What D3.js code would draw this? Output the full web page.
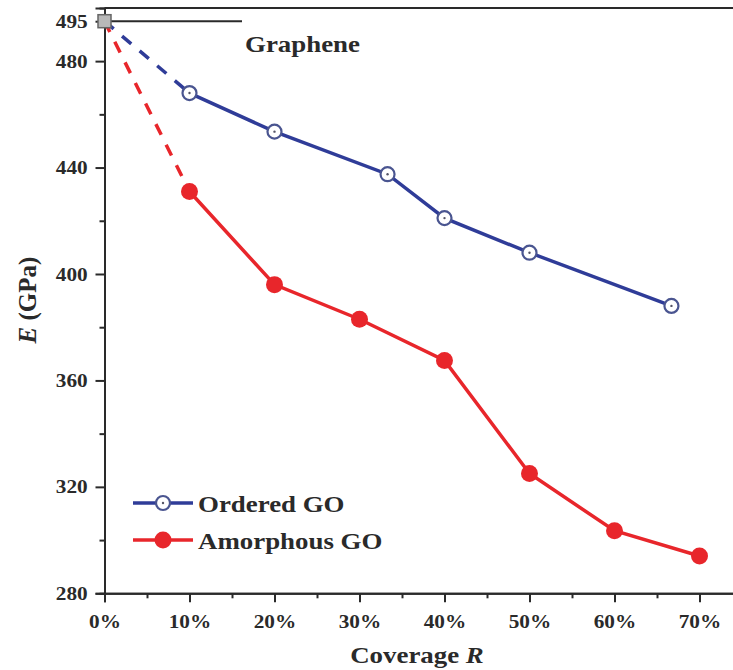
<!DOCTYPE html>
<html>
<head>
<meta charset="utf-8">
<script src="https://cdn.jsdelivr.net/npm/d3@7"></script>
<style>
  html, body { margin: 0; padding: 0; background: #fff; }
  svg { display: block; }
</style>
</head>
<body>
<svg id="chart" width="733" height="670"></svg>
<script>
// data
const grapheneR = [0];
const grapheneE = [495];
const orderedR = [0.10, 0.20, 0.333, 0.40, 0.50, 0.667];
const orderedE = [468, 453.5, 437.5, 421, 408, 388];
const amorphR  = [0.10, 0.20, 0.30, 0.40, 0.50, 0.60, 0.70];
const amorphE  = [431, 396, 383, 367.5, 325, 303.5, 294];

const yMajor = [280, 320, 360, 400, 440, 480, 495];
const yMinor = [300, 340, 380, 420, 460];
const xMajor = [0, 0.1, 0.2, 0.3, 0.4, 0.5, 0.6, 0.7];
const xMinor = [0.05, 0.15, 0.25, 0.35, 0.45, 0.55, 0.65];

const legendItems = ['Ordered GO', 'Amorphous GO'];

const FONT = '"Liberation Serif"';
const BLUE = '#2f3c98', RED = '#e8262b', AXIS = '#2a2a2a', INK = '#2a2a2a';
const SX = 1.12;   // the original is a bit wider than tall

const svg = d3.select('#chart');
const x = d3.scaleLinear().domain([0, 0.74]).range([104.5, 733.5]);
const y = d3.scaleLinear().domain([280, 500]).range([593.3, 7.9]);

// frame top line
svg.append('line')
  .attr('x1', x(0)).attr('x2', 733).attr('y1', y(500)).attr('y2', y(500))
  .attr('stroke', AXIS).attr('stroke-width', 2);

// axes
svg.append('g').attr('transform', `translate(${x(0)},0)`)
  .call(d3.axisLeft(y).tickValues(yMajor).tickSize(9).tickPadding(6).tickFormat(d3.format('d')));
svg.append('g').attr('transform', `translate(${x(0)},0)`)
  .call(d3.axisLeft(y).tickValues(yMinor).tickSize(5).tickFormat(''));
svg.append('g').attr('transform', `translate(0,${y(280)})`)
  .call(d3.axisBottom(x).tickValues(xMajor).tickSize(9).tickPadding(12).tickFormat(d3.format('.0%')));
svg.append('g').attr('transform', `translate(0,${y(280)})`)
  .call(d3.axisBottom(x).tickValues(xMinor).tickSize(5).tickFormat(''));

svg.selectAll('.domain').attr('stroke', AXIS).attr('stroke-width', 2);
svg.selectAll('.tick line').attr('stroke', AXIS).attr('stroke-width', 2);
svg.selectAll('.tick text')
  .attr('font-family', FONT).attr('font-weight', 'bold')
  .attr('font-size', 19).attr('fill', INK)
  .attr('transform', `scale(${SX},1)`);

// graphene reference line
svg.append('line')
  .attr('x1', x(0)).attr('x2', 242).attr('y1', y(grapheneE[0])).attr('y2', y(grapheneE[0]))
  .attr('stroke', AXIS).attr('stroke-width', 2);

// dashed links from graphene to first point
const dashes = [[orderedR, orderedE, BLUE], [amorphR, amorphE, RED]];
dashes.forEach(([r, e, c]) => {
  svg.append('line')
    .attr('x1', x(grapheneR[0])).attr('y1', y(grapheneE[0]))
    .attr('x2', x(r[0])).attr('y2', y(e[0]))
    .attr('stroke', c).attr('stroke-width', 3.5).attr('stroke-dasharray', '12,11');
});

const line = d3.line().x(d => x(d[0])).y(d => y(d[1]));
const ordered = orderedR.map((r, i) => [r, orderedE[i]]);
const amorph = amorphR.map((r, i) => [r, amorphE[i]]);

svg.append('path').datum(ordered).attr('d', line)
  .attr('fill', 'none').attr('stroke', BLUE).attr('stroke-width', 3.5);
svg.append('path').datum(amorph).attr('d', line)
  .attr('fill', 'none').attr('stroke', RED).attr('stroke-width', 3.5);

function openMarker(g, cx, cy) {
  g.append('circle').attr('cx', cx).attr('cy', cy).attr('r', 7)
    .attr('fill', '#fff').attr('stroke', '#4a5590').attr('stroke-width', 2.2);
  g.append('circle').attr('cx', cx).attr('cy', cy).attr('r', 1.2).attr('fill', '#556');
}
function fillMarker(g, cx, cy) {
  g.append('circle').attr('cx', cx).attr('cy', cy).attr('r', 8.5).attr('fill', RED);
}

const mk = svg.append('g');
ordered.forEach(d => openMarker(mk, x(d[0]), y(d[1])));
amorph.forEach(d => fillMarker(mk, x(d[0]), y(d[1])));

// graphene square
svg.append('rect')
  .attr('x', x(grapheneR[0]) - 6.5).attr('y', y(grapheneE[0]) - 6.5)
  .attr('width', 13).attr('height', 13)
  .attr('fill', '#b8b8b8').attr('stroke', '#666').attr('stroke-width', 1.5);

function label(str, tx, ty, size, anchor) {
  return svg.append('text')
    .attr('transform', `translate(${tx},${ty}) scale(${SX},1)`)
    .attr('font-family', FONT).attr('font-weight', 'bold').attr('fill', INK)
    .attr('font-size', size).attr('text-anchor', anchor || 'start')
    .text(str);
}

label('Graphene', 245, 52, 24);

// legend
const legY = [503, 540];
legendItems.forEach((name, i) => {
  const c = i === 0 ? BLUE : RED;
  svg.append('line').attr('x1', 133).attr('x2', 193).attr('y1', legY[i]).attr('y2', legY[i])
    .attr('stroke', c).attr('stroke-width', 3.5);
  if (i === 0) openMarker(svg, 163, legY[i]); else fillMarker(svg, 163, legY[i]);
  label(name, 198, legY[i] + 8.5, 24);
});

// axis titles
const xt = label('', 417, 663, 24, 'middle');
xt.append('tspan').text('Coverage ');
xt.append('tspan').attr('font-style', 'italic').text('R');

const yt = svg.append('text')
  .attr('transform', 'translate(36,300) rotate(-90)')
  .attr('font-family', FONT).attr('font-weight', 'bold').attr('fill', INK)
  .attr('font-size', 25).attr('text-anchor', 'middle');
yt.append('tspan').attr('font-style', 'italic').text('E');
yt.append('tspan').text(' (GPa)');
</script>
</body>
</html>
